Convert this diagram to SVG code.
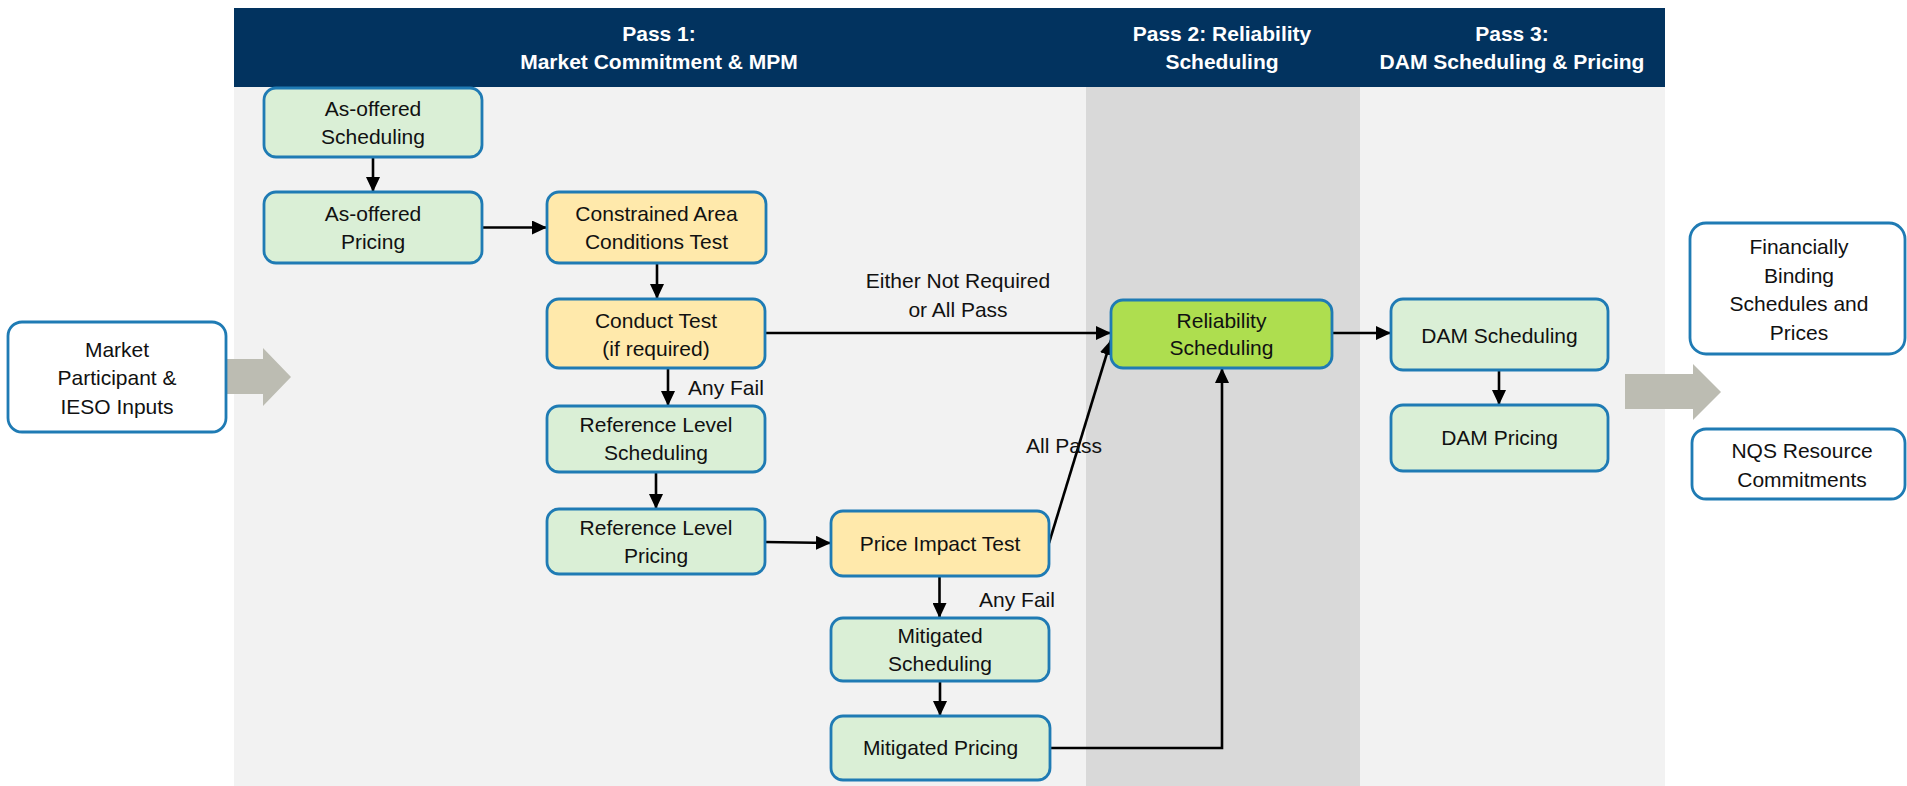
<svg xmlns="http://www.w3.org/2000/svg" width="1907" height="786" viewBox="0 0 1907 786">
<style>
.box{stroke:#1f7bb4;stroke-width:2.8}
.g{fill:#daefd6}
.y{fill:#ffe9ab}
.w{fill:#ffffff}
.rg{fill:#aede4f}
.t{font-family:"Liberation Sans",Arial,sans-serif;font-size:21px;fill:#111;text-anchor:middle}
.lb{font-family:"Liberation Sans",Arial,sans-serif;font-size:21px;fill:#111}
.h{font-family:"Liberation Sans",Arial,sans-serif;font-size:21px;font-weight:bold;fill:#fff;text-anchor:middle}
.c{fill:none;stroke:#000;stroke-width:2.6}
.blk{fill:#bcbcb2}
</style>
<defs>
<marker id="ah" markerUnits="userSpaceOnUse" markerWidth="16" markerHeight="14" refX="15" refY="7" orient="auto">
<path d="M0,0 L15,7 L0,14 z" fill="#000"/>
</marker>
</defs>

<g id="background">
<rect x="234" y="87" width="852" height="699" fill="#f2f2f2"/>
<rect x="1086" y="87" width="274" height="699" fill="#d9d9d9"/>
<rect x="1360" y="87" width="305" height="699" fill="#f2f2f2"/>
<rect x="234" y="8" width="1431" height="79" fill="#02335f"/>
<text class="h" x="659" y="40.5">Pass 1:</text>
<text class="h" x="659" y="69">Market Commitment &amp; MPM</text>
<text class="h" x="1222" y="40.5">Pass 2: Reliability</text>
<text class="h" x="1222" y="69">Scheduling</text>
<text class="h" x="1512" y="40.5">Pass 3:</text>
<text class="h" x="1512" y="69">DAM Scheduling &amp; Pricing</text>
</g>

<g id="block-arrows">
<polygon class="blk" points="226,359 263,359 263,348 291,377 263,406 263,394 226,394"/>
<polygon class="blk" points="1625,374 1693,374 1693,364 1721,392 1693,420 1693,409 1625,409"/>
</g>

<g id="connectors">
<line class="c" x1="373" y1="157" x2="373" y2="192" marker-end="url(#ah)"/>
<line class="c" x1="482" y1="227.5" x2="547" y2="227.5" marker-end="url(#ah)"/>
<line class="c" x1="657" y1="263" x2="657" y2="299" marker-end="url(#ah)"/>
<line class="c" x1="765" y1="333" x2="1111" y2="333" marker-end="url(#ah)"/>
<line class="c" x1="668" y1="368" x2="668" y2="406" marker-end="url(#ah)"/>
<line class="c" x1="656" y1="472" x2="656" y2="509" marker-end="url(#ah)"/>
<line class="c" x1="765" y1="542" x2="831" y2="543" marker-end="url(#ah)"/>
<line class="c" x1="1049" y1="543" x2="1111" y2="340" marker-end="url(#ah)"/>
<line class="c" x1="939.5" y1="576" x2="939.5" y2="618" marker-end="url(#ah)"/>
<line class="c" x1="940" y1="681" x2="940" y2="716" marker-end="url(#ah)"/>
<polyline class="c" points="1050,748 1222,748 1222,368" marker-end="url(#ah)"/>
<line class="c" x1="1332" y1="333" x2="1391" y2="333" marker-end="url(#ah)"/>
<line class="c" x1="1499" y1="370" x2="1499" y2="405" marker-end="url(#ah)"/>
<text class="lb" x="958" y="288" text-anchor="middle">Either Not Required</text>
<text class="lb" x="958" y="317" text-anchor="middle">or All Pass</text>
<text class="lb" x="688" y="395">Any Fail</text>
<text class="lb" x="1064" y="453" text-anchor="middle">All Pass</text>
<text class="lb" x="1017" y="607" text-anchor="middle">Any Fail</text>
</g>

<g id="mpi">
<rect class="box w" x="8" y="322" width="218" height="110" rx="14"/>
<text class="t" x="117" y="356.5">Market</text>
<text class="t" x="117" y="385">Participant &amp;</text>
<text class="t" x="117" y="413.5">IESO Inputs</text>
</g>

<g id="aos">
<rect class="box g" x="264" y="88" width="218" height="69" rx="12"/>
<text class="t" x="373" y="115.5">As-offered</text>
<text class="t" x="373" y="143.5">Scheduling</text>
</g>

<g id="aop">
<rect class="box g" x="264" y="192" width="218" height="71" rx="12"/>
<text class="t" x="373" y="221">As-offered</text>
<text class="t" x="373" y="249">Pricing</text>
</g>

<g id="cat">
<rect class="box y" x="547" y="192" width="219" height="71" rx="12"/>
<text class="t" x="656.5" y="221">Constrained Area</text>
<text class="t" x="656.5" y="249">Conditions Test</text>
</g>

<g id="ct">
<rect class="box y" x="547" y="299" width="218" height="69" rx="12"/>
<text class="t" x="656" y="328">Conduct Test</text>
<text class="t" x="656" y="356">(if required)</text>
</g>

<g id="rls">
<rect class="box g" x="547" y="406" width="218" height="66" rx="12"/>
<text class="t" x="656" y="432">Reference Level</text>
<text class="t" x="656" y="460">Scheduling</text>
</g>

<g id="rlp">
<rect class="box g" x="547" y="509" width="218" height="65" rx="12"/>
<text class="t" x="656" y="535">Reference Level</text>
<text class="t" x="656" y="563">Pricing</text>
</g>

<g id="pit">
<rect class="box y" x="831" y="511" width="218" height="65" rx="12"/>
<text class="t" x="940" y="551">Price Impact Test</text>
</g>

<g id="ms">
<rect class="box g" x="831" y="618" width="218" height="63" rx="12"/>
<text class="t" x="940" y="643">Mitigated</text>
<text class="t" x="940" y="671">Scheduling</text>
</g>

<g id="mp">
<rect class="box g" x="831" y="716" width="219" height="64" rx="12"/>
<text class="t" x="940.5" y="755">Mitigated Pricing</text>
</g>

<g id="rel">
<rect class="box rg" x="1111" y="300" width="221" height="68" rx="12"/>
<text class="t" x="1221.5" y="327.5">Reliability</text>
<text class="t" x="1221.5" y="355">Scheduling</text>
</g>

<g id="dams">
<rect class="box g" x="1391" y="299" width="217" height="71" rx="12"/>
<text class="t" x="1499.5" y="343">DAM Scheduling</text>
</g>

<g id="damp">
<rect class="box g" x="1391" y="405" width="217" height="66" rx="12"/>
<text class="t" x="1499.5" y="445">DAM Pricing</text>
</g>

<g id="fin">
<rect class="box w" x="1690" y="223" width="215" height="131" rx="16"/>
<text class="t" x="1799" y="254">Financially</text>
<text class="t" x="1799" y="282.5">Binding</text>
<text class="t" x="1799" y="311">Schedules and</text>
<text class="t" x="1799" y="339.5">Prices</text>
</g>

<g id="nqs">
<rect class="box w" x="1692" y="429" width="213" height="70" rx="14"/>
<text class="t" x="1802" y="458">NQS Resource</text>
<text class="t" x="1802" y="487">Commitments</text>
</g>
</svg>
